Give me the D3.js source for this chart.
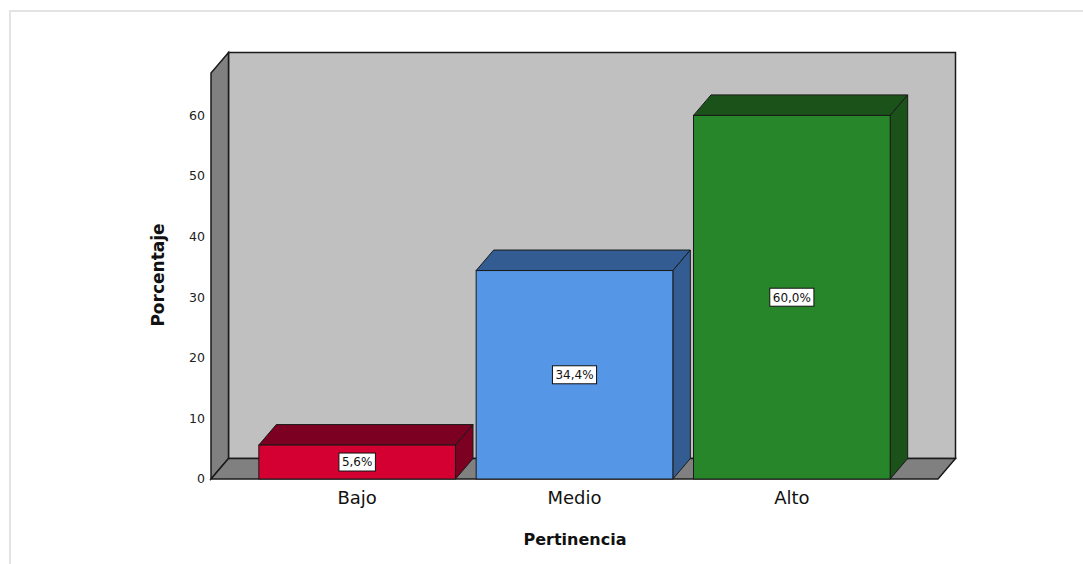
<!DOCTYPE html>
<html>
<head>
<meta charset="utf-8">
<script src="https://cdn.jsdelivr.net/npm/d3@7"></script>
<style>
  body { margin: 0; background: #fff; }
  svg { display: block; }
</style>
</head>
<body>
<svg id="chart" width="1083" height="564"></svg>
<script>
const categories = ["Bajo", "Medio", "Alto"];
const values = [5.6, 34.4, 60.0];
const valueLabels = ["5,6%", "34,4%", "60,0%"];
const yTicks = [0, 10, 20, 30, 40, 50, 60];
const frontColors = ["#d40032", "#5596e6", "#28862a"];
const darkColors = ["#7b0022", "#335d92", "#1b521a"];
const yTitle = "Porcentaje";
const xTitle = "Pertinencia";

const svg = d3.select("#chart");
const W = 1083, H = 564;

// outer frame
svg.append("rect").attr("x", 10).attr("y", 11).attr("width", W).attr("height", H)
  .attr("fill", "#fff").attr("stroke", "#e3e3e3").attr("stroke-width", 2);

const x0 = 211, x1 = 938, y0 = 479;
const dx = 17.5, dy = -20.5;

const y = d3.scaleLinear().domain([0, 67]).range([y0, 73]);
const x = d3.scaleBand().domain(categories).range([x0, x1]).paddingInner(0.095).paddingOuter(0.22);

const line = d3.line();
const stroke = "#1a1a1a";

// back wall
svg.append("path")
  .attr("d", line([[x0 + dx, y(0) + dy], [x0 + dx, y(67) + dy], [x1 + dx, y(67) + dy], [x1 + dx, y(0) + dy]]) + "Z")
  .attr("fill", "#c0c0c0").attr("stroke", stroke).attr("stroke-width", 1.5);
// left wall
svg.append("path")
  .attr("d", line([[x0, y(0)], [x0, y(67)], [x0 + dx, y(67) + dy], [x0 + dx, y(0) + dy]]) + "Z")
  .attr("fill", "#808080").attr("stroke", stroke).attr("stroke-width", 1.5);
// floor
svg.append("path")
  .attr("d", line([[x0, y(0)], [x0 + dx, y(0) + dy], [x1 + dx, y(0) + dy], [x1, y(0)]]) + "Z")
  .attr("fill", "#808080").attr("stroke", stroke).attr("stroke-width", 1.5);

// y tick labels
svg.append("g").selectAll("text").data(yTicks).join("text")
  .attr("x", 205).attr("y", d => y(d)).attr("dy", "0.35em")
  .attr("text-anchor", "end")
  .attr("font-family", "DejaVu Sans").attr("font-size", 12.5).attr("fill", "#222")
  .text(d => d);

// bars
const bars = svg.append("g").selectAll("g").data(categories).join("g");
bars.each(function (c, i) {
  const g = d3.select(this);
  const bx = x(c), bw = x.bandwidth();
  const top = y(values[i]), bot = y(0);
  // top face
  g.append("path")
    .attr("d", line([[bx, top], [bx + dx, top + dy], [bx + bw + dx, top + dy], [bx + bw, top]]) + "Z")
    .attr("fill", darkColors[i]).attr("stroke", stroke).attr("stroke-width", 1);
  // side face
  g.append("path")
    .attr("d", line([[bx + bw, top], [bx + bw + dx, top + dy], [bx + bw + dx, bot + dy], [bx + bw, bot]]) + "Z")
    .attr("fill", darkColors[i]).attr("stroke", stroke).attr("stroke-width", 1);
  // front face
  g.append("rect")
    .attr("x", bx).attr("y", top).attr("width", bw).attr("height", bot - top)
    .attr("fill", frontColors[i]).attr("stroke", stroke).attr("stroke-width", 1);
  // value label
  const cx = bx + bw / 2, cy = (top + bot) / 2;
  const t = g.append("text")
    .attr("x", cx).attr("y", cy).attr("dy", "0.36em")
    .attr("text-anchor", "middle")
    .attr("font-family", "DejaVu Sans").attr("font-size", 12).attr("fill", "#111")
    .text(valueLabels[i]);
  const bb = t.node().getBBox();
  g.insert("rect", "text")
    .attr("x", bb.x - 3).attr("y", cy - 9).attr("width", bb.width + 6).attr("height", 18)
    .attr("fill", "#fff").attr("stroke", "#111").attr("stroke-width", 1);
});

// category labels
svg.append("g").selectAll("text").data(categories).join("text")
  .attr("x", d => x(d) + x.bandwidth() / 2).attr("y", 504)
  .attr("text-anchor", "middle")
  .attr("font-family", "DejaVu Sans").attr("font-size", 18).attr("fill", "#111")
  .text(d => d);

// axis titles
svg.append("text")
  .attr("x", 575).attr("y", 545).attr("text-anchor", "middle")
  .attr("font-family", "DejaVu Sans").attr("font-weight", "bold").attr("font-size", 16).attr("fill", "#111")
  .text(xTitle);
svg.append("text")
  .attr("transform", "translate(164,275) rotate(-90)")
  .attr("text-anchor", "middle")
  .attr("font-family", "DejaVu Sans").attr("font-weight", "bold").attr("font-size", 17).attr("fill", "#111")
  .text(yTitle);
</script>
</body>
</html>
